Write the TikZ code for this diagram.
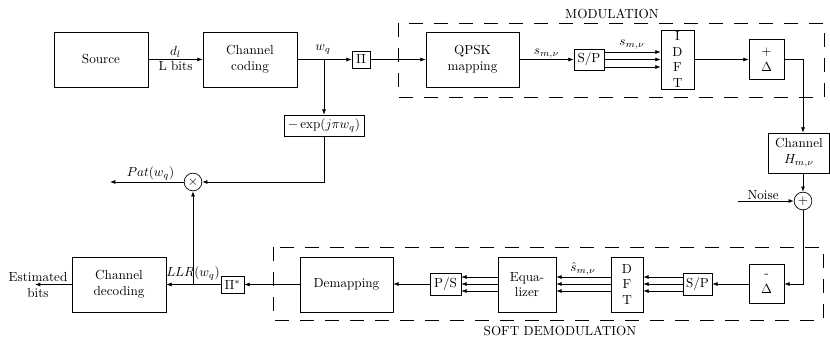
\documentclass[tikz,border=0pt]{standalone}
\usetikzlibrary{arrows.meta}
\begin{document}
\begin{tikzpicture}[x=0.76pt,y=-0.76pt,
  box/.style={draw,line width=0.5pt,inner sep=1pt,align=center},
  sbox/.style={draw,line width=0.5pt,inner sep=1.5pt,align=center},
  summ/.style={draw,circle,line width=0.5pt,minimum size=13.5pt,inner sep=0pt},
  con/.style={line width=0.5pt},
  arr/.style={con,-{Latex[length=4pt,width=3pt]}},
  dbox/.style={dash pattern=on 11pt off 8pt,line width=0.5pt},
  lbl/.style={inner sep=1pt}]
\useasboundingbox (0,0) rectangle (830,341);
% dashed regions
\draw[dbox] (398,23) rectangle (824,97);
\draw[dbox] (273,247) rectangle (823,320);
\node[lbl] (modl) at (612,14) {MODULATION};
\node[lbl] (demodl) at (560,331) {SOFT DEMODULATION};
% top chain
\node[box,minimum width={94*0.76pt},minimum height={55*0.76pt}] (src) at (101,59.5) {Source};
\node[box,minimum width={94*0.76pt},minimum height={55*0.76pt}] (cc) at (250,59.5) {Channel\\coding};
\node[sbox,minimum width={18*0.76pt},minimum height={17*0.76pt},inner sep=0.5pt] (pi) at (361,59.5) {$\Pi$};
\node[sbox,minimum width={80*0.76pt},minimum height={21*0.76pt}] (exp) at (324,125.5) {$-\exp(j\pi w_q)$};
\node[box,minimum width={93*0.76pt},minimum height={55*0.76pt}] (qpsk) at (472.5,59.5) {QPSK\\mapping};
\node[sbox,minimum width={30*0.76pt},minimum height={21*0.76pt}] (sp1) at (589,59.5) {S/P};
\node[box,minimum width={33*0.76pt},minimum height={55*0.76pt}] (idft) at (677.5,59.5) {I\\D\\F\\T};
\node[box,minimum width={35*0.76pt},minimum height={40*0.76pt}] (padd) at (766.5,59.5) {$+$\\$\Delta$};
\node[box,minimum width={61*0.76pt},minimum height={40*0.76pt}] (chan) at (799,153) {Channel\\$H_{m,\nu}$};
\node[summ] (sum) at (803,201) {$+$};
% bottom chain
\node[box,minimum width={35*0.76pt},minimum height={39*0.76pt}] (pdel) at (766.5,283.5) {-\\$\Delta$};
\node[sbox,minimum width={29*0.76pt},minimum height={22*0.76pt}] (sp2) at (697.5,284) {S/P};
\node[box,minimum width={32*0.76pt},minimum height={55*0.76pt}] (dft) at (627,284.5) {D\\F\\T};
\node[box,minimum width={58*0.76pt},minimum height={55*0.76pt}] (eq) at (527,284.5) {Equa-\\lizer};
\node[sbox,minimum width={31*0.76pt},minimum height={22*0.76pt}] (ps) at (445.5,284) {P/S};
\node[box,minimum width={93*0.76pt},minimum height={55*0.76pt}] (dem) at (346.5,284.5) {Demapping};
\node[sbox,minimum width={23*0.76pt},minimum height={17*0.76pt},inner sep=0.5pt] (pistar) at (232.5,284.5) {$\Pi^{*}$};
\node[box,minimum width={94*0.76pt},minimum height={55*0.76pt}] (cd) at (119,284.5) {Channel\\decoding};
\node[summ] (mul) at (193,182) {$\times$};
% coordinates
\coordinate (b1) at (324,59.5);
\coordinate (t1) at (803,59.5);
\coordinate (t2) at (803,284);
\coordinate (t3) at (324,182);
\coordinate (b2) at (193,284.5);
\coordinate (noise) at (738,201);
\coordinate (patend) at (110,182);
\coordinate (estend) at (35,284.5);
% connectors top
\draw[arr] (src) -- node[lbl,above] {$d_l$} node[lbl,below] {L bits} (cc);
\draw[arr] (cc) -- (pi);
\node[lbl] (wq) at (323,50) {$w_q$};
\draw[arr] (b1) -- (exp);
\draw[arr] (pi) -- (qpsk);
\draw[arr] (qpsk) -- node[lbl,above] {$s_{m,\nu}$} (sp1);
\draw[arr] (sp1.east |- 0,52) -- (idft.west |- 0,52);
\draw[arr] (sp1.east |- 0,59.5) -- (idft.west |- 0,59.5);
\draw[arr] (sp1.east |- 0,67) -- (idft.west |- 0,67);
\node[lbl] (sml) at (632,45) {$s_{m,\nu}$};
\draw[arr] (idft) -- (padd);
\draw[arr] (padd.east) -- (t1) -- (chan.north -| t1);
\draw[arr] (chan.south -| sum) -- (sum);
\draw[arr] (noise) -- node[lbl,above,pos=0.45] {Noise} (sum);
\draw[arr] (sum) -- (t2) -- (pdel.east |- t2);
% connectors bottom
\draw[arr] (pdel.west |- t2) -- (sp2.east |- t2);
\foreach \yy in {277,284,291} {
  \draw[arr] (sp2.west |- 0,\yy) -- (dft.east |- 0,\yy);
  \draw[arr] (dft.west |- 0,\yy) -- (eq.east |- 0,\yy);
  \draw[arr] (eq.west |- 0,\yy) -- (ps.east |- 0,\yy);
}
\node[lbl] (shat) at (583,269) {$\hat{s}_{m,\nu}$};
\draw[arr] (ps.west |- t2) -- (dem.east |- t2);
\draw[arr] (dem) -- (pistar);
\draw[arr] (pistar) -- (cd);
\node[lbl] (llr) at (193,273) {$LLR(w_q)$};
\draw[arr] (b2) -- (mul);
\draw[arr] (exp) -- (t3) -- (mul);
\draw[arr] (mul) -- node[lbl,above,pos=0.45] {$Pat(w_q)$} (patend);
\draw[arr] (cd) -- (estend);
\node[lbl,align=center] (est) at (38,285) {Estimated\\bits};
\end{tikzpicture}
\end{document}
